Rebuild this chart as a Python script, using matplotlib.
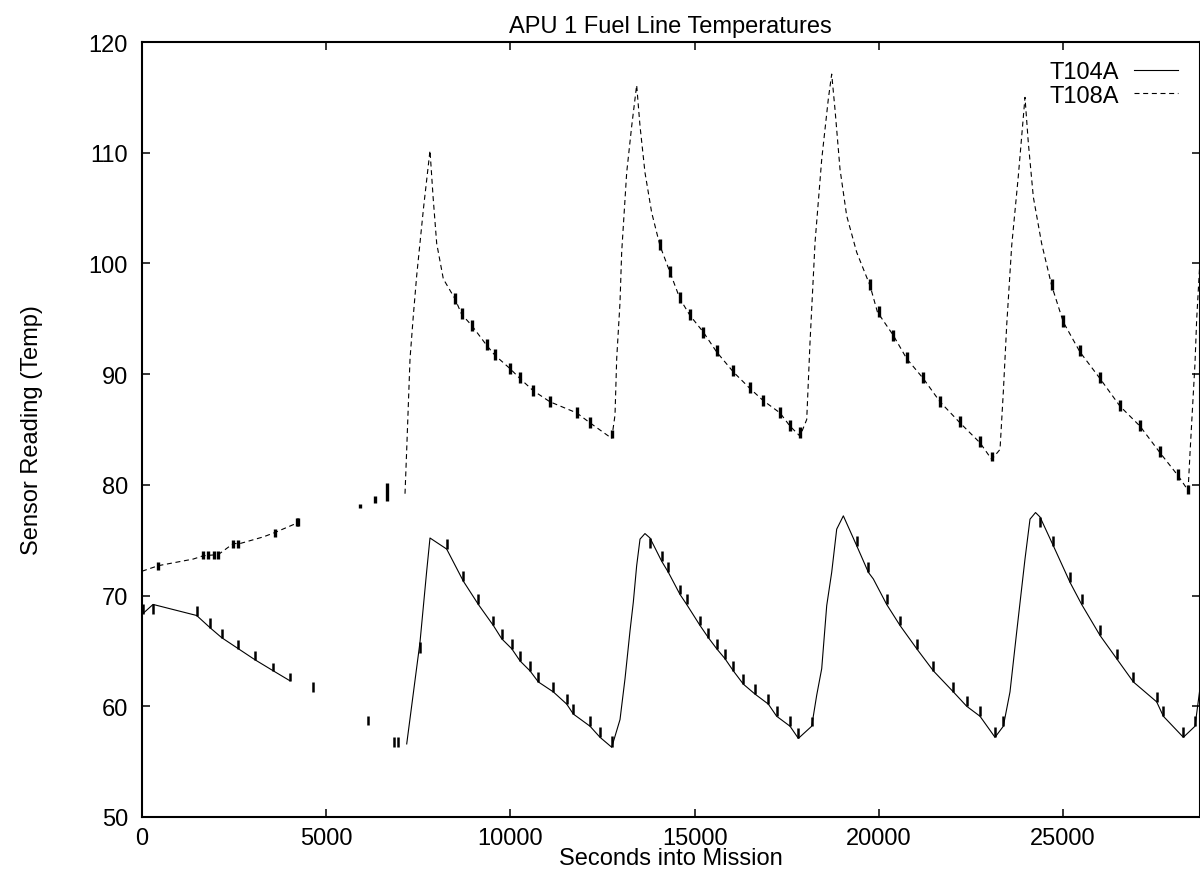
import numpy as np
import matplotlib
matplotlib.use("Agg")
import matplotlib.pyplot as plt

plt.rcParams['font.family'] = ['Liberation Sans', 'DejaVu Sans']

# T104A (solid) - okunan tepe/dip noktalari, nan = veri yok
t104_t = [0, 300, 1484, 1846, 2162, 2614, 3067, 3564, 4017, np.nan,
          7184, 7545, 7726, 7816, 8269, 8721, 9128, 9535, 9762, 10034, 10259, 10530, 10756,
          11163, 11526, 11706, 12159, 12430, 12748,
          12973, 13109, 13244, 13334, 13425, 13516, 13650, 13787, 14104, 14285, 14601, 14782,
          15144, 15370, 15596, 15822, 16048, 16320, 16637, 16998, 17224, 17587, 17813, 18175,
          18311, 18447, 18583, 18718, 18854, 19034, 19397, 19713, 19848, 20210, 20572, 21025,
          21477, 22020, 22382, 22743, 23150, 23376,
          23557, 23738, 23964, 24100, 24250, 24371, 24733, 25185, 25502, 26000, 26452, 26905,
          27538, 27719, 28262, 28578, 28700]
t104_v = [68.3, 69.2, 68.2, 67.1, 66.2, 65.2, 64.2, 63.2, 62.3, np.nan,
          56.6, 65.8, 72.2, 75.2, 74.2, 71.3, 69.2, 67.3, 66.1, 65.2, 64.1, 63.2, 62.2,
          61.3, 60.2, 59.3, 58.2, 57.2, 56.3,
          58.8, 62.5, 66.8, 69.4, 72.7, 75.1, 75.6, 75.2, 73.1, 72.1, 70.1, 69.2,
          67.3, 66.2, 65.2, 64.3, 63.2, 62.0, 61.1, 60.2, 59.1, 58.2, 57.1, 58.2,
          61.0, 63.4, 69.1, 72.1, 76.0, 77.2, 74.5, 72.1, 71.5, 69.2, 67.3, 65.2,
          63.2, 61.3, 60.0, 59.1, 57.2, 58.2,
          61.3, 66.7, 73.3, 76.9, 77.5, 77.1, 74.5, 71.2, 69.2, 66.4, 64.3, 62.2,
          60.4, 59.1, 57.2, 58.2, 61.3]

# T108A (dashed)
t108_t = [0, 442, 1393, 1665, 2070, 2478, 2660, 3293, 3610, 4243, np.nan,
          7138, 7184, 7274, 7364, 7455, 7640, 7816, 7900, 7998, 8178, 8495, 8676, 8948, 9355,
          9580, 9988, 10259, 10620, 11073, 11797, 12159, 12748,
          12837, 12883, 12973, 13018, 13154, 13290, 13425, 13516, 13651, 13832, 14058, 14330,
          14601, 14872, 15234, 15596, 16048, 16501, 16863, 17315, 17587, 17858,
          18040, 18130, 18266, 18447, 18628, 18718, 18808, 18944, 19125, 19397, 19758, 19960,
          20391, 20753, 21205, 21658, 22200, 22743, 23060,
          23286, 23376, 23467, 23603, 23783, 23964, 24054, 24190, 24416, 24688, 25004, 25456,
          26000, 26543, 27086, 27628, 28125, 28390, 28443, 28578, 28624, 28700]
t108_v = [72.2, 72.7, 73.3, 73.6, 73.7, 74.7, 74.7, 75.3, 75.7, 76.6, np.nan,
          79.2, 83.2, 91.4, 95.3, 98.9, 105.0, 110.2, 106.0, 101.8, 98.6, 96.8, 95.4, 94.4, 92.6,
          91.7, 90.5, 89.6, 88.5, 87.5, 86.5, 85.6, 84.2,
          86.3, 91.4, 96.5, 101.0, 108.2, 112.4, 116.1, 112.4, 108.2, 104.6, 101.6, 99.2,
          96.8, 95.3, 93.8, 92.0, 90.2, 88.7, 87.6, 86.5, 85.3, 84.4,
          85.9, 92.9, 101.9, 109.4, 114.9, 117.1, 113.9, 108.5, 104.3, 101.0, 98.0, 95.6,
          93.5, 91.4, 89.6, 87.5, 85.6, 83.8, 82.3,
          83.2, 88.4, 94.4, 101.6, 107.9, 115.0, 110.9, 106.0, 101.8, 98.0, 94.7, 92.0,
          89.6, 87.1, 85.3, 82.9, 80.8, 79.5, 82.9, 91.0, 95.0, 99.5]

# sensör titremesi: (zaman, alt, üst)
t104_jit = [(30, 68.3, 69.2), (300, 68.3, 69.2), (1484, 68.2, 69.1), (1846, 67.1, 68.0),
            (2162, 66.2, 67.0), (2614, 65.2, 66.0), (3067, 64.2, 65.0), (3564, 63.2, 63.9),
            (4017, 62.3, 63.0), (4650, 61.3, 62.2), (6143, 58.3, 59.1), (6850, 56.3, 57.2),
            (6950, 56.3, 57.2), (7545, 64.8, 65.8),
            (8269, 74.2, 75.1), (8721, 71.3, 72.2), (9128, 69.2, 70.1), (9535, 67.3, 68.2),
            (9762, 66.1, 67.0), (10034, 65.2, 66.1), (10259, 64.1, 65.0), (10530, 63.2, 64.1),
            (10756, 62.2, 63.1), (11163, 61.3, 62.2), (11526, 60.2, 61.1), (11706, 59.3, 60.2),
            (12159, 58.2, 59.1), (12430, 57.2, 58.1), (12748, 56.3, 57.3),
            (13787, 74.3, 75.2), (14104, 73.1, 74.0), (14285, 72.1, 73.0), (14601, 70.1, 71.0),
            (14782, 69.2, 70.1), (15144, 67.3, 68.2), (15370, 66.2, 67.1), (15596, 65.2, 66.1),
            (15822, 64.3, 65.2), (16048, 63.2, 64.1), (16320, 62.0, 62.9), (16637, 61.1, 62.0),
            (16998, 60.2, 61.1), (17224, 59.1, 60.0), (17587, 58.2, 59.1), (17813, 57.1, 58.0),
            (18175, 58.2, 59.0),
            (19397, 74.5, 75.4), (19713, 72.1, 73.0), (20210, 69.2, 70.1), (20572, 67.3, 68.2),
            (21025, 65.2, 66.1), (21477, 63.2, 64.1), (22020, 61.3, 62.2), (22382, 60.0, 60.9),
            (22743, 59.1, 60.0), (23150, 57.2, 58.1), (23376, 58.2, 59.1),
            (24371, 76.2, 77.1), (24733, 74.5, 75.4), (25185, 71.2, 72.1), (25502, 69.2, 70.1),
            (26000, 66.4, 67.3), (26452, 64.3, 65.2), (26905, 62.2, 63.1), (27538, 60.4, 61.3),
            (27719, 59.1, 60.0), (28262, 57.2, 58.1), (28578, 58.2, 59.1)]
t108_jit = [(442, 72.3, 73.0), (1665, 73.3, 74.0), (1800, 73.3, 74.0), (1950, 73.3, 74.0),
            (2070, 73.3, 74.0), (2478, 74.3, 75.0), (2600, 74.3, 75.0), (3610, 75.3, 76.0),
            (4200, 76.3, 77.0), (4243, 76.3, 77.0), (5917, 77.9, 78.3), (6324, 78.4, 79.0),
            (6640, 78.5, 80.2),
            (8495, 96.3, 97.3), (8676, 95.0, 96.0), (8948, 93.9, 94.9), (9355, 92.2, 93.2),
            (9580, 91.3, 92.3), (9988, 90.0, 91.0), (10259, 89.2, 90.2), (10620, 88.0, 89.0),
            (11073, 87.0, 88.0), (11797, 86.0, 87.0), (12159, 85.1, 86.1), (12748, 84.2, 85.0),
            (14058, 101.2, 102.2), (14330, 98.8, 99.8), (14601, 96.4, 97.4), (14872, 94.9, 95.9),
            (15234, 93.3, 94.3), (15596, 91.6, 92.6), (16048, 89.8, 90.8), (16501, 88.3, 89.3),
            (16863, 87.1, 88.1), (17315, 86.0, 87.0), (17587, 84.9, 85.9), (17858, 84.2, 85.2),
            (19758, 97.6, 98.6), (20000, 95.2, 96.2), (20391, 93.0, 94.0), (20753, 91.0, 92.0),
            (21205, 89.2, 90.2), (21658, 87.0, 88.0), (22200, 85.2, 86.2), (22743, 83.4, 84.4),
            (23060, 82.2, 83.0),
            (24688, 97.6, 98.6), (25004, 94.3, 95.3), (25456, 91.6, 92.6), (26000, 89.2, 90.2),
            (26543, 86.7, 87.7), (27086, 84.9, 85.9), (27628, 82.5, 83.5), (28125, 80.4, 81.4),
            (28390, 79.2, 80.0)]

fig = plt.figure(figsize=(12, 8.79), dpi=100)
ax = fig.add_axes([142/1200, 1-818/879, 1057.5/1200, 775/879])

ax.plot(t104_t, t104_v, color='black', lw=0.8, label='T104A')
ax.plot(t108_t, t108_v, color='black', lw=0.8, linestyle=(0, (4.5, 3.3)), label='T108A')

j = np.array(t104_jit)
ax.vlines(j[:, 0], j[:, 1], j[:, 2], color='black', lw=1.8)
j = np.array(t108_jit)
ax.vlines(j[:, 0], j[:, 1], j[:, 2], color='black', lw=2.4)

ax.set_xlim(0, 28700)
ax.set_ylim(50, 120)
ax.set_xticks(np.arange(0, 25001, 5000))
ax.set_yticks(np.arange(50, 121, 10))
ax.tick_params(direction='in', top=True, right=True, length=6, width=1.1,
               labelsize=17)
ax.tick_params(axis='y', pad=10)
ax.tick_params(axis='x', pad=7)
for s in ax.spines.values():
    s.set_linewidth(1.5)

ax.set_title('APU 1 Fuel Line Temperatures', fontsize=17, pad=7)
ax.set_xlabel('Seconds into Mission', fontsize=17, labelpad=-1)
ax.set_ylabel('Sensor Reading (Temp)', fontsize=17, labelpad=33)

ax.legend(loc='upper right', bbox_to_anchor=(0.9797, 0.975), frameon=False,
          markerfirst=False, fontsize=17, handlelength=1.85, handletextpad=0.65,
          labelspacing=0.05, borderpad=0, borderaxespad=0)

plt.savefig('out.png', dpi=100)
